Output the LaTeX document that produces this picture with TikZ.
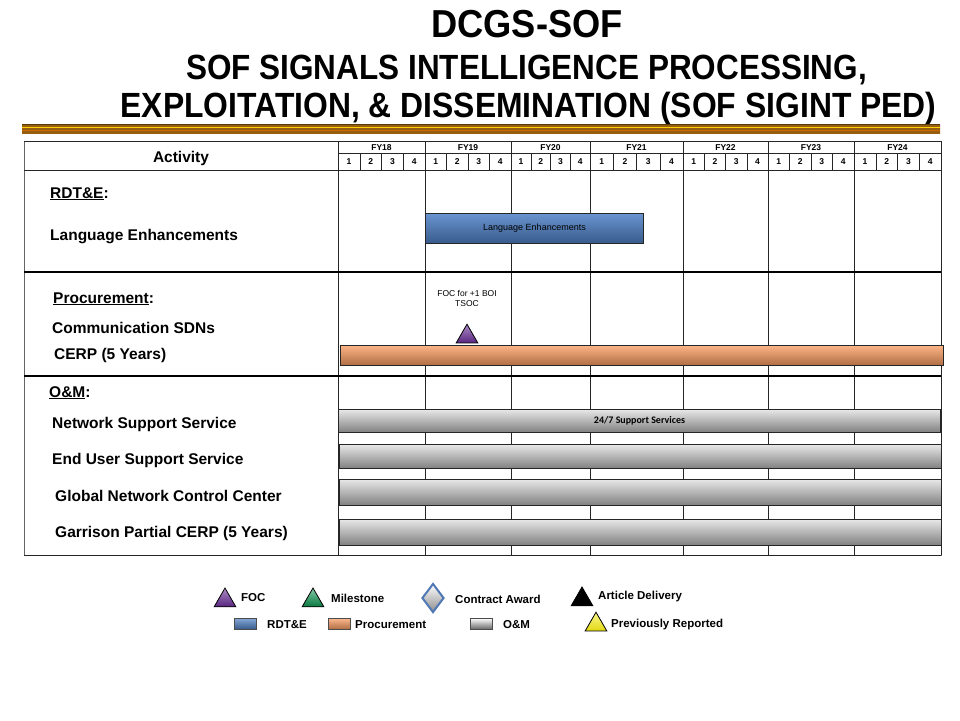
\documentclass[tikz,border=0pt]{standalone}
\usepackage{fontspec}
\setmainfont{Liberation Sans}
\newfontfamily\barfont{Carlito}
\usepackage{xcolor}
\usepackage{tikz}
\usetikzlibrary{shapes.geometric,positioning,calc}

\definecolor{rdtblue}{RGB}{79,129,199}
\definecolor{procorange}{RGB}{250,155,95}
\definecolor{omgray}{RGB}{196,196,196}
\definecolor{focpurple}{RGB}{104,44,150}
\definecolor{msgreen}{RGB}{10,150,80}
\definecolor{prevyellow}{RGB}{250,240,20}
\definecolor{rulegold}{RGB}{235,160,30}
\definecolor{rulebrown}{RGB}{150,95,15}
\definecolor{awardblue}{RGB}{80,120,180}

\begin{document}
\begin{tikzpicture}[x=1pt,y=-1pt,
    lbl/.style={anchor=base west,inner sep=0pt,font=\bfseries\fontsize{15.5}{17}\selectfont},
    hdr/.style={inner sep=0pt,font=\bfseries\fontsize{8.5}{9}\selectfont},
    ttl/.style={anchor=base,inner sep=0pt,font=\bfseries\fontsize{35}{37}\selectfont},
    legtxt/.style={anchor=west,inner sep=0pt,font=\bfseries\fontsize{11.5}{13}\selectfont},
    gbar/.style={draw=black!85,line width=1pt,anchor=north west,inner sep=0pt},
    tri/.style={regular polygon,regular polygon sides=3,draw=black,line width=0.8pt,inner sep=0pt,minimum size=25pt},
    keybar/.style={draw=black!70,line width=0.6pt,inner sep=0pt,minimum width=22pt,minimum height=11pt,anchor=north west}]
    \useasboundingbox (0,0) rectangle (960,720);

    % Title
    \node[ttl,font=\bfseries\fontsize{39}{41}\selectfont] (title) at (527,37) {\scalebox{0.93}[1]{DCGS-SOF}};
    \node[ttl] (sub1) at (526.5,79) {\scalebox{0.9}[1]{SOF SIGNALS INTELLIGENCE PROCESSING,}};
    \node[ttl] (sub2) at (528.5,117) {\scalebox{0.91}[1]{EXPLOITATION, \& DISSEMINATION (SOF SIGINT PED)}};

    % Gold rule
    \shade[top color=rulebrown,middle color=rulegold,bottom color=rulebrown] (22,124) rectangle (940,133);
    \draw[yellow!70!orange,line width=0.8pt] (22,127.2) -- (940,127.2);
    \draw[orange!80!black,line width=0.6pt] (22,129.8) -- (940,129.8);
    \draw[rulebrown!60!black,line width=0.6pt] (22,124.3) -- (940,124.3);

    % Table frame and header
    \draw[black!60,line width=1pt] (24,141) rectangle (941,555);
    \draw[black!85] (24,141) -- (941,141);
    \draw[black!85] (24,555) -- (941,555);
    \draw[black!85] (338,141) -- (338,555);
    \draw[black!85] (24,170) -- (941,170);
    \draw[black!85] (338,153) -- (941,153);
    \node[font=\bfseries\fontsize{15.5}{17}\selectfont,anchor=base,inner sep=0pt] (activity) at (181,162) {Activity};

    % Fiscal years and quarters
    \foreach \yr/\xa/\xb in {18/338/425,19/425/511,20/511/590,21/590/683,22/683/768,23/768/854,24/854/941}{
        \draw[black!85] (\xb,141) -- (\xb,555);
        \node[hdr] (fy\yr) at ({(\xa+\xb)/2},147.5) {FY\yr};
        \foreach \q in {1,2,3,4}{
            \pgfmathsetmacro{\xq}{\xa+(\q-0.5)*(\xb-\xa)/4}
            \pgfmathsetmacro{\xl}{\xa+\q*(\xb-\xa)/4}
            \node[hdr] (q\yr\q) at (\xq,161.5) {\q};
            \ifnum\q<4 \draw[black!85] (\xl,153) -- (\xl,170); \fi
        }
    }

    % Section dividers
    \draw[line width=2pt] (24,271.5) -- (941,271.5);
    \draw[line width=2pt] (24,376) -- (941,376);

    % Activities
    \node[lbl] (rdte) at (50,198) {\underline{RDT\&E}:};
    \node[lbl] (lang) at (50,240) {Language Enhancements};
    \node[lbl] (proc) at (53,303) {\underline{Procurement}:};
    \node[lbl] (comms) at (52,333) {Communication SDNs};
    \node[lbl] (cerp) at (54,359) {CERP (5 Years)};
    \node[lbl] (om) at (49,397) {\underline{O\&M}:};
    \node[lbl] (netsvc) at (52,428) {Network Support Service};
    \node[lbl] (usersvc) at (52,464) {End User Support Service};
    \node[lbl] (gncc) at (55,501) {Global Network Control Center};
    \node[lbl] (garrison) at (55,537) {Garrison Partial CERP (5 Years)};

    % Bars
    \node[gbar,minimum width=218pt,minimum height=30pt,top color=rdtblue!85!white,middle color=rdtblue,bottom color=rdtblue!70!black,font=\fontsize{9}{10}\selectfont] (langbar) at (425,213) {Language Enhancements};
    \node[gbar,minimum width=603pt,minimum height=20pt,top color=procorange!75!white,middle color=procorange,bottom color=procorange!70!black] (cerpbar) at (340,345) {};
    \node[gbar,minimum width=602pt,minimum height=23pt,top color=omgray!40!white,middle color=omgray,bottom color=omgray!65!black,font=\barfont\bfseries\fontsize{10}{11}\selectfont] (netbar) at (338,409) {24/7 Support Services};
    \node[gbar,minimum width=602pt,minimum height=24pt,top color=omgray!40!white,middle color=omgray,bottom color=omgray!65!black] (userbar) at (339,444) {};
    \node[gbar,minimum width=602pt,minimum height=26pt,top color=omgray!40!white,middle color=omgray,bottom color=omgray!65!black] (gnccbar) at (339,479) {};
    \node[gbar,minimum width=602pt,minimum height=26pt,top color=omgray!40!white,middle color=omgray,bottom color=omgray!65!black] (garrbar) at (339,519) {};

    % Milestone
    \node[font=\fontsize{8.5}{10}\selectfont,align=center,inner sep=0pt] (foctxt) at (467,298) {FOC for +1 BOI\\TSOC};
    \node[tri,top color=focpurple!55!white,bottom color=focpurple!85!black] (foc) at (467,336.7) {};

    % Legend
    \node[tri,top color=focpurple!55!white,bottom color=focpurple!85!black] (fockey) at (225,600.5) {};
    \node[legtxt] at (241,598) {FOC};
    \node[tri,top color=msgreen!50!white,bottom color=msgreen!80!black] (mskey) at (313,600.5) {};
    \node[legtxt] at (331,598) {Milestone};
    \node[diamond,draw=awardblue,line width=2pt,inner sep=0pt,minimum width=22pt,minimum height=29pt,top color=white,bottom color=black!45] (awardkey) at (433,598) {};
    \node[legtxt] at (455,599) {Contract Award};
    \node[tri,fill=black] (delkey) at (582,599.5) {};
    \node[legtxt] at (598,597) {Article Delivery};
    \node[keybar,top color=rdtblue!70!white,middle color=rdtblue,bottom color=rdtblue!70!black] (rdtkey) at (234,618) {};
    \node[legtxt] at (267,624.5) {RDT\&E};
    \node[keybar,top color=procorange!70!white,middle color=procorange,bottom color=procorange!70!black] (prockey) at (328,618) {};
    \node[legtxt] at (355,624.5) {Procurement};
    \node[keybar,top color=white,middle color=omgray,bottom color=black!60] (omkey) at (470,618) {};
    \node[legtxt] at (503,624.5) {O\&M};
    \node[tri,top color=prevyellow!50!white,bottom color=prevyellow!90!black] (prevkey) at (596,624.7) {};
    \node[legtxt] at (611,624.5) {Previously Reported};
\end{tikzpicture}
\end{document}
